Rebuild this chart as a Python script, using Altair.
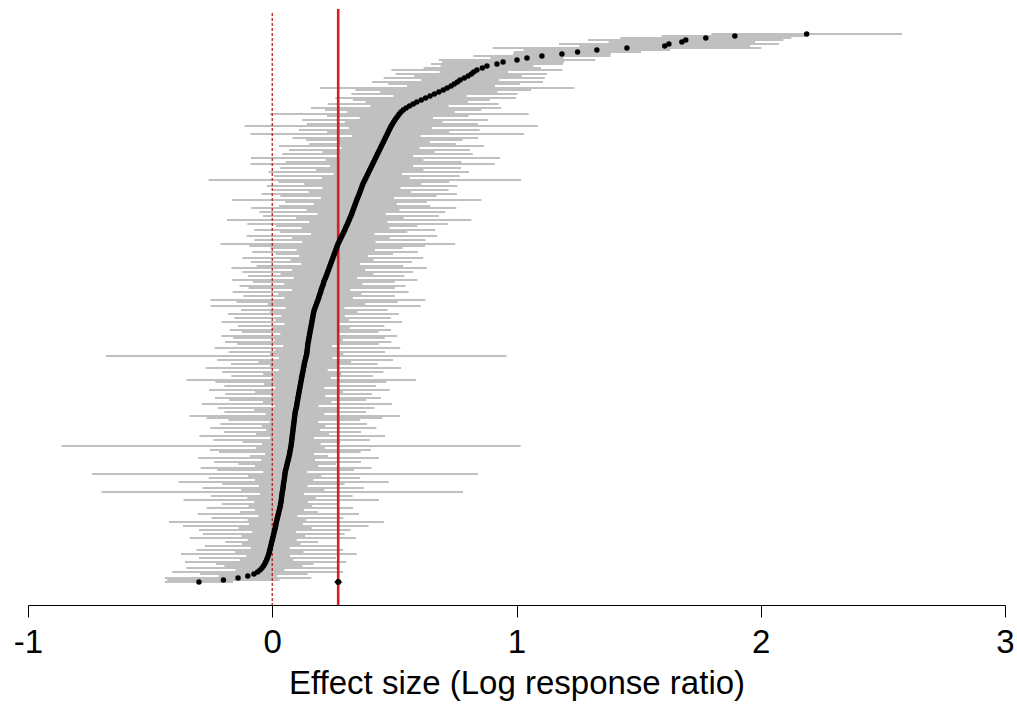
import altair as alt
import pandas as pd

# Effect sizes (log response ratio), sorted from bottom row to top row
EST = [
    -0.30, -0.20, -0.14, -0.10, -0.075, -0.06, -0.05, -0.042, -0.036, -0.031,
    -0.027, -0.023, -0.020, -0.017, -0.014, -0.012, -0.010, -0.008, -0.006, -0.004,
    -0.002, 0.000, 0.002, 0.004, 0.006, 0.008, 0.010, 0.012, 0.014, 0.015,
    0.017, 0.019, 0.021, 0.023, 0.025, 0.027, 0.029, 0.031, 0.033, 0.034,
    0.036, 0.037, 0.038, 0.039, 0.040, 0.041, 0.043, 0.044, 0.045, 0.046,
    0.047, 0.049, 0.050, 0.051, 0.052, 0.053, 0.055, 0.057, 0.059, 0.061,
    0.063, 0.065, 0.067, 0.069, 0.071, 0.072, 0.074, 0.075, 0.077, 0.078,
    0.079, 0.080, 0.081, 0.082, 0.083, 0.084, 0.085, 0.086, 0.087, 0.088,
    0.089, 0.090, 0.091, 0.092, 0.093, 0.094, 0.096, 0.098, 0.100, 0.101,
    0.102, 0.104, 0.105, 0.107, 0.108, 0.110, 0.111, 0.113, 0.114, 0.116,
    0.117, 0.119, 0.120, 0.122, 0.123, 0.125, 0.127, 0.128, 0.130, 0.131,
    0.133, 0.135, 0.137, 0.139, 0.141, 0.142, 0.143, 0.144, 0.145, 0.146,
    0.147, 0.149, 0.150, 0.152, 0.153, 0.155, 0.156, 0.158, 0.159, 0.161,
    0.162, 0.164, 0.165, 0.167, 0.168, 0.170, 0.172, 0.175, 0.178, 0.181,
    0.184, 0.187, 0.190, 0.192, 0.195, 0.198, 0.200, 0.203, 0.206, 0.209,
    0.211, 0.214, 0.218, 0.221, 0.224, 0.227, 0.230, 0.233, 0.236, 0.239,
    0.242, 0.245, 0.248, 0.251, 0.254, 0.257, 0.260, 0.263, 0.266, 0.269,
    0.273, 0.277, 0.281, 0.285, 0.289, 0.293, 0.297, 0.300, 0.304, 0.308,
    0.311, 0.315, 0.318, 0.322, 0.325, 0.328, 0.331, 0.334, 0.337, 0.340,
    0.343, 0.346, 0.349, 0.353, 0.356, 0.359, 0.362, 0.365, 0.368, 0.371,
    0.375, 0.379, 0.383, 0.387, 0.391, 0.395, 0.399, 0.403, 0.407, 0.411,
    0.415, 0.419, 0.423, 0.427, 0.431, 0.435, 0.439, 0.443, 0.447, 0.451,
    0.455, 0.459, 0.463, 0.467, 0.471, 0.475, 0.479, 0.483, 0.487, 0.492,
    0.497, 0.502, 0.508, 0.514, 0.520, 0.527, 0.536, 0.548, 0.562, 0.577,
    0.592, 0.610, 0.628, 0.646, 0.664, 0.682, 0.700, 0.716, 0.732, 0.745,
    0.758, 0.769, 0.786, 0.802, 0.815, 0.825, 0.838, 0.860, 0.879, 0.920,
    0.945, 1.002, 1.043, 1.104, 1.186, 1.250, 1.329,
    1.452, 1.607, 1.624, 1.677, 1.693, 1.775, 1.894, 2.188,
]

# 95% CI half-widths for each row
HALF = [
    0.14, 0.23, 0.30, 0.12, 0.22, 0.35, 0.10, 0.31, 0.16, 0.20,
    0.33, 0.11, 0.28, 0.09, 0.36, 0.14, 0.30, 0.08, 0.27, 0.12,
    0.19, 0.10, 0.34, 0.13, 0.29, 0.09, 0.31, 0.15, 0.38, 0.11,
    0.44, 0.12, 0.27, 0.08, 0.33, 0.16, 0.10, 0.30, 0.13, 0.24,
    0.11, 0.40, 0.14, 0.29, 0.09, 0.74, 0.17, 0.33, 0.10, 0.25,
    0.43, 0.12, 0.31, 0.15, 0.79, 0.09, 0.28, 0.35, 0.13, 0.20,
    0.30, 0.11, 0.37, 0.16, 0.10, 0.29, 0.33, 0.14, 0.94, 0.12,
    0.20, 0.32, 0.09, 0.38, 0.15, 0.28, 0.11, 0.34, 0.13, 0.30,
    0.10, 0.27, 0.36, 0.43, 0.12, 0.29, 0.17, 0.32, 0.09, 0.39,
    0.14, 0.28, 0.34, 0.11, 0.30, 0.18, 0.37, 0.10, 0.31, 0.15,
    0.35, 0.47, 0.12, 0.29, 0.16, 0.33, 0.10, 0.40, 0.14, 0.30,
    0.19, 0.36, 0.11, 0.82, 0.15, 0.32, 0.13, 0.38, 0.10, 0.29,
    0.34, 0.14, 0.31, 0.36, 0.12, 0.28, 0.33, 0.16, 0.30, 0.11,
    0.37, 0.15, 0.32, 0.13, 0.35, 0.18, 0.30, 0.12, 0.43, 0.20,
    0.33, 0.44, 0.14, 0.31, 0.17, 0.36, 0.12, 0.30, 0.34, 0.16,
    0.29, 0.38, 0.13, 0.32, 0.19, 0.35, 0.15, 0.40, 0.30, 0.12,
    0.33, 0.17, 0.37, 0.14, 0.24, 0.34, 0.16, 0.27, 0.36, 0.48,
    0.15, 0.35, 0.20, 0.39, 0.13, 0.26, 0.37, 0.18, 0.29, 0.41,
    0.16, 0.50, 0.22, 0.36, 0.14, 0.38, 0.19, 0.42, 0.31, 0.17,
    0.29, 0.51, 0.15, 0.32, 0.40, 0.21, 0.36, 0.16, 0.39, 0.24,
    0.35, 0.64, 0.18, 0.38, 0.14, 0.41, 0.22, 0.37, 0.17, 0.50,
    0.36, 0.20, 0.51, 0.15, 0.39, 0.23, 0.37, 0.16, 0.42, 0.30,
    0.19, 0.32, 0.38, 0.14, 0.56, 0.25, 0.37, 0.17, 0.60, 0.35,
    0.20, 0.38, 0.15, 0.29, 0.53, 0.22, 0.32, 0.39, 0.16, 0.35,
    0.21, 0.28, 0.37, 0.15, 0.34, 0.24, 0.36, 0.52, 0.18, 0.27,
    0.35, 0.16, 0.33, 0.22, 0.31, 0.14, 0.35, 0.24, 0.19, 0.27,
    0.25, 0.32, 0.15, 0.28, 0.20, 0.26, 0.30,
    0.55, 0.35, 0.45, 0.30, 0.40, 0.35, 0.30, 0.39,
]

SUMMARY = 0.27          # pooled effect size
SUMMARY_CI = [0.255, 0.285]
NULL_EFFECT = 0.0
X_TICKS = [-1, 0, 1, 2, 3]
X_TITLE = "Effect size (Log response ratio)"

n = len(EST)
df = pd.DataFrame({
    "row": list(range(n)),
    "est": EST,
    "lo": [e - h for e, h in zip(EST, HALF)],
    "hi": [e + h for e, h in zip(EST, HALF)],
})
summ = pd.DataFrame({"row": [0], "est": [SUMMARY], "lo": [SUMMARY_CI[0]], "hi": [SUMMARY_CI[1]]})

W, H = 977, 596
span = (n - 1) * H / 548.0
d1 = 573.0 / H * span
d0 = d1 - span

FONT = "Liberation Sans"
xscale = alt.Scale(domain=[-1, 3], nice=False, zero=False)
yscale = alt.Scale(domain=[d0, d1], nice=False, zero=False)

xaxis = alt.Axis(values=X_TICKS, title=X_TITLE, labelFontSize=33, titleFontSize=33,
                 labelFont=FONT, titleFont=FONT, titleFontWeight="normal",
                 labelColor="black", titleColor="black", domainColor="black",
                 tickColor="black", tickSize=12, domainWidth=1, tickWidth=1,
                 labelPadding=9, titlePadding=8, grid=False,
                 labelExpr="datum.value < 0 ? '-' + abs(datum.value) : '' + datum.value",
                 labelFlush=False, labelOverlap=False)

base = alt.Chart(df)

ci = base.mark_rule(color="#c0c0c0", strokeWidth=2).encode(
    x=alt.X("lo:Q", scale=xscale, axis=xaxis),
    x2="hi:Q",
    y=alt.Y("row:Q", scale=yscale, axis=None),
)

ref_solid = alt.Chart(pd.DataFrame({"x": [SUMMARY]})).mark_rule(
    color="#d81e1e", strokeWidth=2.6).encode(
    x=alt.X("x:Q", scale=xscale), y=alt.value(0), y2=alt.value(H))

ref_dot = alt.Chart(pd.DataFrame({"x": [NULL_EFFECT]})).mark_rule(
    color="#b22222", strokeWidth=1.3, strokeDash=[3, 2]).encode(
    x=alt.X("x:Q", scale=xscale), y=alt.value(4), y2=alt.value(H))

pts = base.mark_circle(color="black", size=30, opacity=1).encode(
    x=alt.X("est:Q", scale=xscale),
    y=alt.Y("row:Q", scale=yscale),
)

summ_ci = alt.Chart(summ).mark_rule(color="black", strokeWidth=1.5).encode(
    x=alt.X("lo:Q", scale=xscale), x2="hi:Q", y=alt.Y("row:Q", scale=yscale))
summ_pt = alt.Chart(summ).mark_circle(color="black", size=34, opacity=1).encode(
    x=alt.X("est:Q", scale=xscale), y=alt.Y("row:Q", scale=yscale))

chart = alt.layer(ci, ref_dot, ref_solid, pts, summ_ci, summ_pt).properties(
    width=W, height=H,
    autosize=alt.AutoSizeParams(type="none"),
    padding={"left": 28, "top": 9, "right": 12, "bottom": 104},
    background="white",
).configure_view(stroke=None)

chart.save("out.html", embed_options={"renderer": "svg", "actions": False})
